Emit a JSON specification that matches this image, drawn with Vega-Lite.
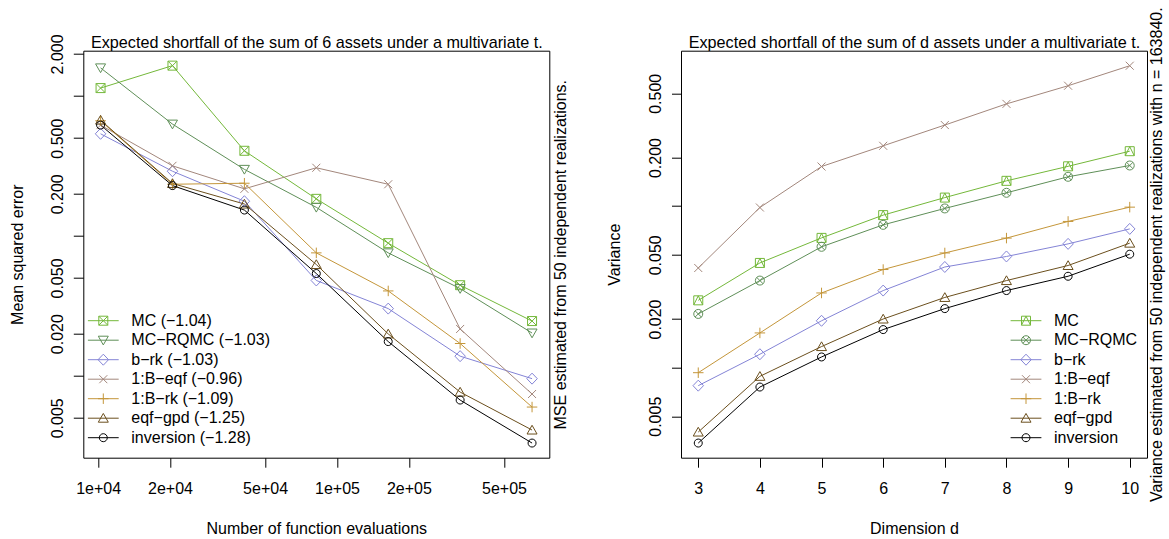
{
  "$schema": "https://vega.github.io/schema/vega-lite/v6.json",
  "autosize": {"type": "none"},
  "padding": {"left": 83.3, "top": 50.7, "right": 1085.7, "bottom": 488.3},
  "background": "white",
  "datasets": {
    "left": [
      {"method": "MC (−1.04)", "n": 10240, "v": 1.14},
      {"method": "MC (−1.04)", "n": 20480, "v": 1.65},
      {"method": "MC (−1.04)", "n": 40960, "v": 0.406},
      {"method": "MC (−1.04)", "n": 81920, "v": 0.184},
      {"method": "MC (−1.04)", "n": 163840, "v": 0.0887},
      {"method": "MC (−1.04)", "n": 327680, "v": 0.0444},
      {"method": "MC (−1.04)", "n": 655360, "v": 0.0246},
      {"method": "MC−RQMC (−1.03)", "n": 10240, "v": 1.59},
      {"method": "MC−RQMC (−1.03)", "n": 20480, "v": 0.63},
      {"method": "MC−RQMC (−1.03)", "n": 40960, "v": 0.299},
      {"method": "MC−RQMC (−1.03)", "n": 81920, "v": 0.16},
      {"method": "MC−RQMC (−1.03)", "n": 163840, "v": 0.0756},
      {"method": "MC−RQMC (−1.03)", "n": 327680, "v": 0.042},
      {"method": "MC−RQMC (−1.03)", "n": 655360, "v": 0.0202},
      {"method": "b−rk (−1.03)", "n": 10240, "v": 0.537},
      {"method": "b−rk (−1.03)", "n": 20480, "v": 0.29},
      {"method": "b−rk (−1.03)", "n": 40960, "v": 0.177},
      {"method": "b−rk (−1.03)", "n": 81920, "v": 0.048},
      {"method": "b−rk (−1.03)", "n": 163840, "v": 0.0302},
      {"method": "b−rk (−1.03)", "n": 327680, "v": 0.0138},
      {"method": "b−rk (−1.03)", "n": 655360, "v": 0.00953},
      {"method": "1:B−eqf (−0.96)", "n": 10240, "v": 0.62},
      {"method": "1:B−eqf (−0.96)", "n": 20480, "v": 0.317},
      {"method": "1:B−eqf (−0.96)", "n": 40960, "v": 0.217},
      {"method": "1:B−eqf (−0.96)", "n": 81920, "v": 0.307},
      {"method": "1:B−eqf (−0.96)", "n": 163840, "v": 0.234},
      {"method": "1:B−eqf (−0.96)", "n": 327680, "v": 0.0216},
      {"method": "1:B−eqf (−0.96)", "n": 655360, "v": 0.0074},
      {"method": "1:B−rk (−1.09)", "n": 10240, "v": 0.666},
      {"method": "1:B−rk (−1.09)", "n": 20480, "v": 0.234},
      {"method": "1:B−rk (−1.09)", "n": 40960, "v": 0.238},
      {"method": "1:B−rk (−1.09)", "n": 81920, "v": 0.0756},
      {"method": "1:B−rk (−1.09)", "n": 163840, "v": 0.0404},
      {"method": "1:B−rk (−1.09)", "n": 327680, "v": 0.017},
      {"method": "1:B−rk (−1.09)", "n": 655360, "v": 0.00597},
      {"method": "eqf−gpd (−1.25)", "n": 10240, "v": 0.673},
      {"method": "eqf−gpd (−1.25)", "n": 20480, "v": 0.237},
      {"method": "eqf−gpd (−1.25)", "n": 40960, "v": 0.169},
      {"method": "eqf−gpd (−1.25)", "n": 81920, "v": 0.0624},
      {"method": "eqf−gpd (−1.25)", "n": 163840, "v": 0.0199},
      {"method": "eqf−gpd (−1.25)", "n": 327680, "v": 0.00764},
      {"method": "eqf−gpd (−1.25)", "n": 655360, "v": 0.00409},
      {"method": "inversion (−1.28)", "n": 10240, "v": 0.62},
      {"method": "inversion (−1.28)", "n": 20480, "v": 0.229},
      {"method": "inversion (−1.28)", "n": 40960, "v": 0.153},
      {"method": "inversion (−1.28)", "n": 81920, "v": 0.0538},
      {"method": "inversion (−1.28)", "n": 163840, "v": 0.01755},
      {"method": "inversion (−1.28)", "n": 327680, "v": 0.0067},
      {"method": "inversion (−1.28)", "n": 655360, "v": 0.0033}
    ],
    "right": [
      {"method": "MC", "d": 3, "v": 0.0261},
      {"method": "MC", "d": 4, "v": 0.0445},
      {"method": "MC", "d": 5, "v": 0.0636},
      {"method": "MC", "d": 6, "v": 0.088},
      {"method": "MC", "d": 7, "v": 0.113},
      {"method": "MC", "d": 8, "v": 0.1435},
      {"method": "MC", "d": 9, "v": 0.1765},
      {"method": "MC", "d": 10, "v": 0.219},
      {"method": "MC−RQMC", "d": 3, "v": 0.0215},
      {"method": "MC−RQMC", "d": 4, "v": 0.0346},
      {"method": "MC−RQMC", "d": 5, "v": 0.056},
      {"method": "MC−RQMC", "d": 6, "v": 0.0766},
      {"method": "MC−RQMC", "d": 7, "v": 0.0968},
      {"method": "MC−RQMC", "d": 8, "v": 0.121},
      {"method": "MC−RQMC", "d": 9, "v": 0.152},
      {"method": "MC−RQMC", "d": 10, "v": 0.1786},
      {"method": "b−rk", "d": 3, "v": 0.00773},
      {"method": "b−rk", "d": 4, "v": 0.0121},
      {"method": "b−rk", "d": 5, "v": 0.0195},
      {"method": "b−rk", "d": 6, "v": 0.03},
      {"method": "b−rk", "d": 7, "v": 0.042},
      {"method": "b−rk", "d": 8, "v": 0.0488},
      {"method": "b−rk", "d": 9, "v": 0.0584},
      {"method": "b−rk", "d": 10, "v": 0.0723},
      {"method": "1:B−eqf", "d": 3, "v": 0.0414},
      {"method": "1:B−eqf", "d": 4, "v": 0.0981},
      {"method": "1:B−eqf", "d": 5, "v": 0.176},
      {"method": "1:B−eqf", "d": 6, "v": 0.2365},
      {"method": "1:B−eqf", "d": 7, "v": 0.318},
      {"method": "1:B−eqf", "d": 8, "v": 0.43},
      {"method": "1:B−eqf", "d": 9, "v": 0.557},
      {"method": "1:B−eqf", "d": 10, "v": 0.741},
      {"method": "1:B−rk", "d": 3, "v": 0.0093},
      {"method": "1:B−rk", "d": 4, "v": 0.0164},
      {"method": "1:B−rk", "d": 5, "v": 0.029},
      {"method": "1:B−rk", "d": 6, "v": 0.0405},
      {"method": "1:B−rk", "d": 7, "v": 0.0513},
      {"method": "1:B−rk", "d": 8, "v": 0.0634},
      {"method": "1:B−rk", "d": 9, "v": 0.0804},
      {"method": "1:B−rk", "d": 10, "v": 0.0986},
      {"method": "eqf−gpd", "d": 3, "v": 0.00399},
      {"method": "eqf−gpd", "d": 4, "v": 0.00883},
      {"method": "eqf−gpd", "d": 5, "v": 0.0135},
      {"method": "eqf−gpd", "d": 6, "v": 0.02},
      {"method": "eqf−gpd", "d": 7, "v": 0.0272},
      {"method": "eqf−gpd", "d": 8, "v": 0.0346},
      {"method": "eqf−gpd", "d": 9, "v": 0.0429},
      {"method": "eqf−gpd", "d": 10, "v": 0.059},
      {"method": "inversion", "d": 3, "v": 0.00341},
      {"method": "inversion", "d": 4, "v": 0.00758},
      {"method": "inversion", "d": 5, "v": 0.01164},
      {"method": "inversion", "d": 6, "v": 0.0172},
      {"method": "inversion", "d": 7, "v": 0.0232},
      {"method": "inversion", "d": 8, "v": 0.03},
      {"method": "inversion", "d": 9, "v": 0.0368},
      {"method": "inversion", "d": 10, "v": 0.0504}
    ]
  },
  "hconcat": [
    {
      "width": 466,
      "height": 407,
      "data": {"name": "left"},
      "layer": [
        {
          "mark": {"type": "line", "strokeWidth": 1},
          "encoding": {
            "x": {"field": "n", "type": "quantitative",
              "scale": {"type": "log", "domain": [8670, 773900], "nice": false},
              "axis": {"values": [10000, 20000, 50000, 100000, 200000, 500000],
                "labelExpr": "datum.value < 15000 ? '1e+04' : datum.value < 30000 ? '2e+04' : datum.value < 70000 ? '5e+04' : datum.value < 150000 ? '1e+05' : datum.value < 300000 ? '2e+05' : '5e+05'",
                "tickSize": 9.5, "labelPadding": 13, "title": "Number of function evaluations", "titleY": 63.1, "titleBaseline": "top"}},
            "y": {"field": "v", "type": "quantitative",
              "scale": {"type": "log", "domain": [0.002593, 2.11], "nice": false},
              "axis": {"values": [0.005, 0.01, 0.02, 0.05, 0.1, 0.2, 0.5, 1, 2],
                "labelExpr": "abs(log(datum.value)/LN10 - round(log(datum.value)/LN10)) < 0.01 ? '' : format(datum.value, '.3f')",
                "labelAngle": 270, "labelAlign": "center", "labelBaseline": "bottom",
                "tickSize": 10, "labelPadding": 8.2, "title": "Mean squared error", "titleAngle": 270, "titleBaseline": "bottom", "titleX": -57.7}},
            "color": {"field": "method", "type": "nominal", "legend": null,
              "scale": {"domain": ["MC (−1.04)", "MC−RQMC (−1.03)", "b−rk (−1.03)", "1:B−eqf (−0.96)", "1:B−rk (−1.09)", "eqf−gpd (−1.25)", "inversion (−1.28)"],
                "range": ["#74b83a", "#5f8f58", "#8484d6", "#a3877c", "#c4963a", "#6b4f1d", "#000000"]}}
          }
        },
        {
          "mark": {"type": "point", "filled": false, "strokeWidth": 1, "size": 100, "opacity": 1},
          "encoding": {
            "x": {"field": "n", "type": "quantitative", "axis": null},
            "y": {"field": "v", "type": "quantitative",
              "axis": {"orient": "right", "ticks": false, "labels": false, "domain": false, "grid": false,
                "title": "MSE estimated from 50 independent realizations.", "titleAngle": 270, "titleBaseline": "bottom", "titleX": 19.1}},
            "color": {"field": "method", "type": "nominal", "legend": null,
              "scale": {"domain": ["MC (−1.04)", "MC−RQMC (−1.03)", "b−rk (−1.03)", "1:B−eqf (−0.96)", "1:B−rk (−1.09)", "eqf−gpd (−1.25)", "inversion (−1.28)"],
                "range": ["#74b83a", "#5f8f58", "#8484d6", "#a3877c", "#c4963a", "#6b4f1d", "#000000"]}},
            "shape": {"field": "method", "type": "nominal", "legend": null,
              "scale": {"domain": ["MC (−1.04)", "MC−RQMC (−1.03)", "b−rk (−1.03)", "1:B−eqf (−0.96)", "1:B−rk (−1.09)", "eqf−gpd (−1.25)", "inversion (−1.28)"],
                "range": [
                  "M-0.9,-0.9H0.9V0.9H-0.9Z M-0.9,-0.9L0.9,0.9 M-0.9,0.9L0.9,-0.9",
                  "M-1,-0.8H1L0,0.95Z",
                  "M0,-1.1L1.05,0L0,1.1L-1.05,0Z",
                  "M-0.8,-0.8L0.8,0.8 M-0.8,0.8L0.8,-0.8",
                  "M-1.05,0H1.05 M0,-1.05V1.05",
                  "M-1,0.8H1L0,-0.95Z",
                  "M0.8,0A0.8,0.8,0,1,1,-0.8,0A0.8,0.8,0,1,1,0.8,0Z"
                ]}}
          }
        },
        {
          "transform": [{"filter": "datum.n < 0"}],
          "mark": {"type": "point", "filled": false, "strokeWidth": 1, "size": 100},
          "encoding": {
            "x": {"field": "n", "type": "quantitative",
              "axis": {"orient": "top", "ticks": false, "labels": false, "domain": false, "grid": false,
                "title": "Expected shortfall of the sum of 6 assets under a multivariate t.", "titleFontSize": 16.2, "titleBaseline": "bottom", "titleY": -0.6}},
            "y": {"field": "v", "type": "quantitative", "axis": null},
            "color": {"field": "method", "type": "nominal",
              "legend": {"orient": "none", "legendX": 12, "legendY": 262, "title": null, "symbolSize": 100, "symbolStrokeWidth": 1, "labelOffset": 20, "rowPadding": 3.5, "padding": 0, "labelFontSize": 16, "symbolOpacity": 1},
              "scale": {"domain": ["MC (−1.04)", "MC−RQMC (−1.03)", "b−rk (−1.03)", "1:B−eqf (−0.96)", "1:B−rk (−1.09)", "eqf−gpd (−1.25)", "inversion (−1.28)"],
                "range": ["#74b83a", "#5f8f58", "#8484d6", "#a3877c", "#c4963a", "#6b4f1d", "#000000"]}},
            "shape": {"field": "method", "type": "nominal",
              "legend": {"orient": "none", "legendX": 12, "legendY": 262, "title": null, "symbolSize": 100, "symbolStrokeWidth": 1, "labelOffset": 20, "rowPadding": 3.5, "padding": 0, "labelFontSize": 16, "symbolOpacity": 1},
              "scale": {"domain": ["MC (−1.04)", "MC−RQMC (−1.03)", "b−rk (−1.03)", "1:B−eqf (−0.96)", "1:B−rk (−1.09)", "eqf−gpd (−1.25)", "inversion (−1.28)"],
                "range": [
                  "M-3.08,0H3.08 M-0.9,-0.9H0.9V0.9H-0.9Z M-0.9,-0.9L0.9,0.9 M-0.9,0.9L0.9,-0.9",
                  "M-3.08,0H3.08 M-1,-0.8H1L0,0.95Z",
                  "M-3.08,0H3.08 M0,-1.1L1.05,0L0,1.1L-1.05,0Z",
                  "M-3.08,0H3.08 M-0.8,-0.8L0.8,0.8 M-0.8,0.8L0.8,-0.8",
                  "M-3.08,0H3.08 M-1.05,0H1.05 M0,-1.05V1.05",
                  "M-3.08,0H3.08 M-1,0.8H1L0,-0.95Z",
                  "M-3.08,0H3.08 M0.8,0A0.8,0.8,0,1,1,-0.8,0A0.8,0.8,0,1,1,0.8,0Z"
                ]}}
          }
        }
      ],
      "resolve": {"scale": {"color": "independent", "shape": "independent"}, "axis": {"x": "independent", "y": "independent"}}
    },
    {
      "width": 466,
      "height": 407,
      "data": {"name": "right"},
      "layer": [
        {
          "mark": {"type": "line", "strokeWidth": 1},
          "encoding": {
            "x": {"field": "d", "type": "quantitative",
              "scale": {"domain": [2.72, 10.28], "nice": false, "zero": false},
              "axis": {"values": [3, 4, 5, 6, 7, 8, 9, 10], "format": "d",
                "tickSize": 9.5, "labelPadding": 13, "title": "Dimension d", "titleY": 63.1, "titleBaseline": "top"}},
            "y": {"field": "v", "type": "quantitative",
              "scale": {"type": "log", "domain": [0.002767, 0.918], "nice": false},
              "axis": {"values": [0.005, 0.01, 0.02, 0.05, 0.1, 0.2, 0.5],
                "labelExpr": "abs(log(datum.value)/LN10 - round(log(datum.value)/LN10)) < 0.01 ? '' : format(datum.value, '.3f')",
                "labelAngle": 270, "labelAlign": "center", "labelBaseline": "bottom",
                "tickSize": 9.5, "labelPadding": 8, "title": "Variance", "titleAngle": 270, "titleBaseline": "bottom", "titleX": -59}},
            "color": {"field": "method", "type": "nominal", "legend": null,
              "scale": {"domain": ["MC", "MC−RQMC", "b−rk", "1:B−eqf", "1:B−rk", "eqf−gpd", "inversion"],
                "range": ["#74b83a", "#5f8f58", "#8484d6", "#a3877c", "#c4963a", "#6b4f1d", "#000000"]}}
          }
        },
        {
          "mark": {"type": "point", "filled": false, "strokeWidth": 1, "size": 100, "opacity": 1},
          "encoding": {
            "x": {"field": "d", "type": "quantitative", "axis": null},
            "y": {"field": "v", "type": "quantitative",
              "axis": {"orient": "right", "ticks": false, "labels": false, "domain": false, "grid": false,
                "title": "Variance estimated from 50 independent realizations with n = 163840.", "titleAngle": 270, "titleBaseline": "bottom", "titleX": 17.8}},
            "color": {"field": "method", "type": "nominal", "legend": null,
              "scale": {"domain": ["MC", "MC−RQMC", "b−rk", "1:B−eqf", "1:B−rk", "eqf−gpd", "inversion"],
                "range": ["#74b83a", "#5f8f58", "#8484d6", "#a3877c", "#c4963a", "#6b4f1d", "#000000"]}},
            "shape": {"field": "method", "type": "nominal", "legend": null,
              "scale": {"domain": ["MC", "MC−RQMC", "b−rk", "1:B−eqf", "1:B−rk", "eqf−gpd", "inversion"],
                "range": [
                  "M-0.9,-0.9H0.9V0.9H-0.9Z M-0.9,0.9L0,-0.9L0.9,0.9",
                  "M0.9,0A0.9,0.9,0,1,1,-0.9,0A0.9,0.9,0,1,1,0.9,0Z M-0.64,-0.64L0.64,0.64 M-0.64,0.64L0.64,-0.64",
                  "M0,-1.1L1.05,0L0,1.1L-1.05,0Z",
                  "M-0.8,-0.8L0.8,0.8 M-0.8,0.8L0.8,-0.8",
                  "M-1.05,0H1.05 M0,-1.05V1.05",
                  "M-1,0.8H1L0,-0.95Z",
                  "M0.8,0A0.8,0.8,0,1,1,-0.8,0A0.8,0.8,0,1,1,0.8,0Z"
                ]}}
          }
        },
        {
          "transform": [{"filter": "datum.d < 0"}],
          "mark": {"type": "point", "filled": false, "strokeWidth": 1, "size": 100},
          "encoding": {
            "x": {"field": "d", "type": "quantitative",
              "axis": {"orient": "top", "ticks": false, "labels": false, "domain": false, "grid": false,
                "title": "Expected shortfall of the sum of d assets under a multivariate t.", "titleFontSize": 16.2, "titleBaseline": "bottom", "titleY": -0.6}},
            "y": {"field": "v", "type": "quantitative", "axis": null},
            "color": {"field": "method", "type": "nominal",
              "legend": {"orient": "none", "legendX": 337, "legendY": 262, "title": null, "symbolSize": 100, "symbolStrokeWidth": 1, "labelOffset": 20, "rowPadding": 3.5, "padding": 0, "labelFontSize": 16, "symbolOpacity": 1},
              "scale": {"domain": ["MC", "MC−RQMC", "b−rk", "1:B−eqf", "1:B−rk", "eqf−gpd", "inversion"],
                "range": ["#74b83a", "#5f8f58", "#8484d6", "#a3877c", "#c4963a", "#6b4f1d", "#000000"]}},
            "shape": {"field": "method", "type": "nominal",
              "legend": {"orient": "none", "legendX": 337, "legendY": 262, "title": null, "symbolSize": 100, "symbolStrokeWidth": 1, "labelOffset": 20, "rowPadding": 3.5, "padding": 0, "labelFontSize": 16, "symbolOpacity": 1},
              "scale": {"domain": ["MC", "MC−RQMC", "b−rk", "1:B−eqf", "1:B−rk", "eqf−gpd", "inversion"],
                "range": [
                  "M-3.08,0H3.08 M-0.9,-0.9H0.9V0.9H-0.9Z M-0.9,0.9L0,-0.9L0.9,0.9",
                  "M-3.08,0H3.08 M0.9,0A0.9,0.9,0,1,1,-0.9,0A0.9,0.9,0,1,1,0.9,0Z M-0.64,-0.64L0.64,0.64 M-0.64,0.64L0.64,-0.64",
                  "M-3.08,0H3.08 M0,-1.1L1.05,0L0,1.1L-1.05,0Z",
                  "M-3.08,0H3.08 M-0.8,-0.8L0.8,0.8 M-0.8,0.8L0.8,-0.8",
                  "M-3.08,0H3.08 M-1.05,0H1.05 M0,-1.05V1.05",
                  "M-3.08,0H3.08 M-1,0.8H1L0,-0.95Z",
                  "M-3.08,0H3.08 M0.8,0A0.8,0.8,0,1,1,-0.8,0A0.8,0.8,0,1,1,0.8,0Z"
                ]}}
          }
        }
      ],
      "resolve": {"scale": {"color": "independent", "shape": "independent"}, "axis": {"x": "independent", "y": "independent"}}
    }
  ],
  "spacing": 131.7,
  "bounds": "flush",
  "config": {
    "font": "Liberation Sans",
    "view": {"stroke": "black", "strokeWidth": 1},
    "axis": {"domain": false, "grid": false, "tickColor": "black", "tickWidth": 1, "labelColor": "black", "titleColor": "black",
      "labelFontSize": 16, "titleFontSize": 16, "titleFontWeight": "normal", "labelFont": "Liberation Sans", "titleFont": "Liberation Sans",
      "labelFlush": false, "labelOverlap": false, "labelBound": false},
    "legend": {"labelFont": "Liberation Sans", "labelColor": "black", "labelFontSize": 16}
  }
}
